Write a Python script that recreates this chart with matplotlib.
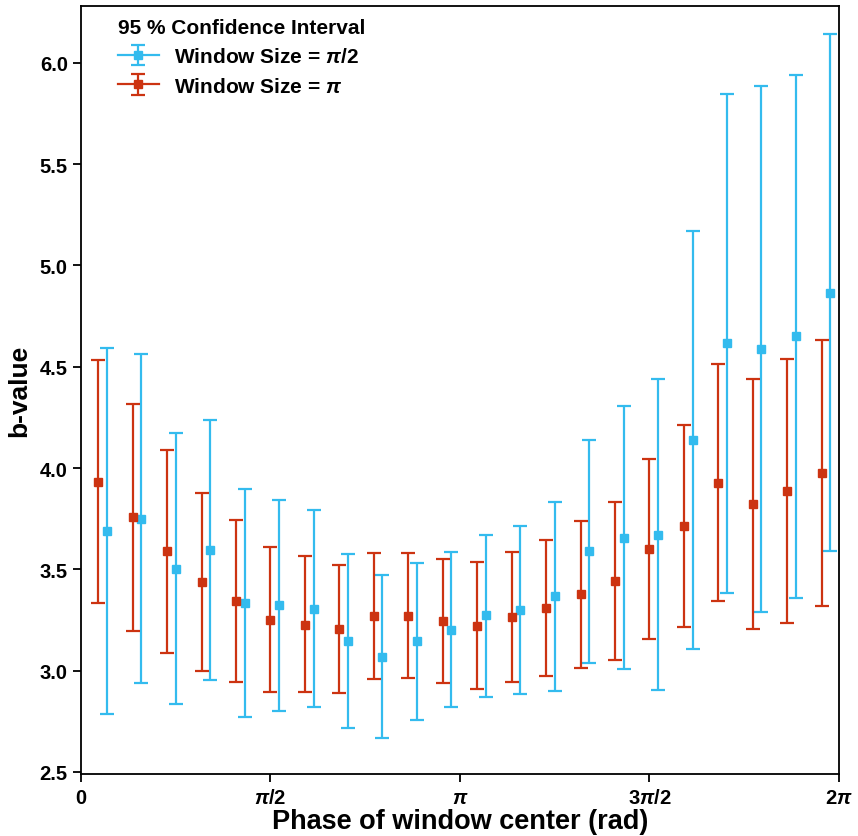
import numpy as np
import matplotlib
matplotlib.use("Agg")
import matplotlib.pyplot as plt

plt.rcParams['font.family'] = ['Liberation Sans', 'DejaVu Sans']
plt.rcParams['font.weight'] = 'bold'
plt.rcParams['mathtext.fontset'] = 'custom'
plt.rcParams['mathtext.it'] = 'Liberation Sans:italic:bold'
plt.rcParams['mathtext.rm'] = 'Liberation Sans:bold'

# 22 windows around the cycle
n_win = 22
win_idx = np.arange(n_win)

# window size = pi (red)
pi_mid = [3.931, 3.757, 3.589, 3.438, 3.344, 3.252, 3.227, 3.207, 3.268, 3.271, 3.247,
          3.222, 3.265, 3.309, 3.377, 3.443, 3.599, 3.714, 3.928, 3.823, 3.885, 3.976]
pi_hi = [4.532, 4.316, 4.087, 3.875, 3.744, 3.611, 3.566, 3.523, 3.581, 3.579, 3.553,
         3.535, 3.586, 3.645, 3.740, 3.833, 4.043, 4.214, 4.512, 4.440, 4.537, 4.630]
pi_lo = [3.332, 3.197, 3.087, 3.000, 2.946, 2.896, 2.895, 2.891, 2.957, 2.964, 2.939,
         2.908, 2.944, 2.972, 3.013, 3.053, 3.155, 3.217, 3.344, 3.207, 3.234, 3.317]

# window size = pi/2 (blue)
half_mid = [3.690, 3.750, 3.502, 3.597, 3.334, 3.322, 3.306, 3.145, 3.069, 3.145, 3.202,
            3.273, 3.301, 3.367, 3.589, 3.656, 3.671, 4.137, 4.616, 4.586, 4.650, 4.866]
half_hi = [4.593, 4.561, 4.175, 4.239, 3.898, 3.844, 3.791, 3.576, 3.470, 3.533, 3.586,
           3.671, 3.712, 3.834, 4.137, 4.308, 4.438, 5.168, 5.846, 5.883, 5.938, 6.141]
half_lo = [2.784, 2.937, 2.834, 2.952, 2.770, 2.803, 2.821, 2.715, 2.666, 2.758, 2.819,
           2.872, 2.886, 2.901, 3.039, 3.008, 2.903, 3.108, 3.383, 3.288, 3.360, 3.591]

tick_pos = [0, np.pi / 2, np.pi, 3 * np.pi / 2, 2 * np.pi]
tick_lbl = ['0', r'$\pi$/2', r'$\pi$', r'3$\pi$/2', r'2$\pi$']

c_blue = '#33BBEE'
c_red = '#CC3311'

step = 2 * np.pi / n_win
x_red = (win_idx + 0.5) * step
x_blue = (win_idx + 0.75) * step

fig = plt.figure(figsize=(8.58, 8.37), dpi=100)
ax = fig.add_axes([0.0944, 0.0741, 0.8834, 0.9175])

style = dict(ms=6, elinewidth=1.6, capsize=4.8, capthick=1.6)

def draw(x, mid, lo, hi, color):
    mid = np.array(mid)
    err = [mid - np.array(lo), np.array(hi) - mid]
    ax.errorbar(x, mid, yerr=err, fmt='s', color=color, **style)

draw(x_blue, half_mid, half_lo, half_hi, c_blue)
draw(x_red, pi_mid, pi_lo, pi_hi, c_red)

# legend proxies (marker with a line through it, like the original legend)
h_blue = ax.errorbar([np.nan], [np.nan], yerr=[[0.1], [0.1]], fmt='s-', color=c_blue,
                     lw=1.6, label=r'Window Size = $\pi$/2', **style)
h_red = ax.errorbar([np.nan], [np.nan], yerr=[[0.1], [0.1]], fmt='s-', color=c_red,
                    lw=1.6, label=r'Window Size = $\pi$', **style)

ax.set_xlim(0, 2 * np.pi)
ax.set_ylim(2.49, 6.28)
ax.set_xticks(tick_pos)
ax.set_xticklabels(tick_lbl)
ax.set_yticks(np.arange(2.5, 6.01, 0.5))
ax.set_yticklabels([f'{v:.1f}' for v in np.arange(2.5, 6.01, 0.5)])
ax.tick_params(axis='both', labelsize=14.5, width=1.3, length=6, direction='out')
ax.tick_params(axis='x', pad=4)
for s in ax.spines.values():
    s.set_linewidth(1.3)

ax.set_xlabel('Phase of window center (rad)', fontsize=19.5, fontweight='bold', labelpad=1)
ax.set_ylabel('b-value', fontsize=19, fontweight='bold', labelpad=6)

leg = ax.legend(handles=[h_blue, h_red], title='95 % Confidence Interval',
                loc='upper left', bbox_to_anchor=(0.024, 1.009), frameon=False,
                fontsize=15, title_fontproperties={'weight': 'bold', 'size': 15},
                handlelength=1.95, handletextpad=0.75, labelspacing=0.5)
leg._legend_box.align = 'left'

fig.savefig('out.png', dpi=100)
